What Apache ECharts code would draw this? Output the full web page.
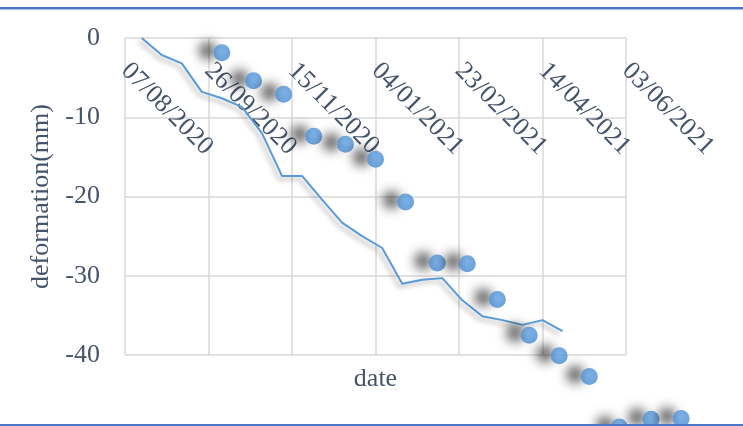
<!DOCTYPE html>
<html>
<head>
<meta charset="utf-8">
<script src="https://cdn.jsdelivr.net/npm/echarts@6/dist/echarts.min.js"></script>
<style>
  html, body { margin: 0; padding: 0; background: #ffffff; }
  #chart { width: 743px; height: 426px; }
</style>
</head>
<body>
<div id="chart"></div>
<script>
// Date-axis tick labels (50-day steps)
const xTickLabels = ['07/08/2020', '26/09/2020', '15/11/2020', '04/01/2021', '23/02/2021', '14/04/2021', '03/06/2021'];
const yTickLabels = ['-40', '-30', '-20', '-10', '0'];

// Continuous deformation series (12-day acquisitions)
const lineDates = ['2020-08-17', '2020-08-29', '2020-09-10', '2020-09-22', '2020-10-04', '2020-10-16',
  '2020-10-28', '2020-11-09', '2020-11-21', '2020-12-03', '2020-12-15', '2020-12-27',
  '2021-01-08', '2021-01-20', '2021-02-01', '2021-02-13', '2021-02-25', '2021-03-09',
  '2021-03-21', '2021-04-02', '2021-04-14', '2021-04-26'];
const lineValues = [0, -2.15, -3.2, -6.8, -7.6, -8.7, -12.0, -17.4, -17.4, -20.4, -23.3, -25.0,
  -26.5, -31.0, -30.5, -30.3, -33.1, -35.1, -35.6, -36.2, -35.6, -37.0];

// Measured points
const pointDates = ['2020-10-04', '2020-10-23', '2020-11-10', '2020-11-28', '2020-12-17', '2021-01-04',
  '2021-01-22', '2021-02-10', '2021-02-28', '2021-03-18', '2021-04-06', '2021-04-24',
  '2021-05-12', '2021-05-30', '2021-06-18', '2021-07-06'];
const pointValues = [-1.85, -5.4, -7.1, -12.4, -13.4, -15.3, -20.7, -28.4, -28.5, -33.0, -37.5, -40.1,
  -42.7, -49.1, -48.1, -48.0];

const DAY = 86400000;
function parseISO(s) {
  const p = s.split('-').map(Number);
  return Date.UTC(p[0], p[1] - 1, p[2]);
}
function parseDMY(s) {
  const p = s.split('/').map(Number);
  return Date.UTC(p[2], p[1] - 1, p[0]);
}
// x values are days counted from the first tick date
const origin = parseDMY(xTickLabels[0]);
const xMax = Math.round((parseDMY(xTickLabels[xTickLabels.length - 1]) - origin) / DAY);
const xStep = xMax / (xTickLabels.length - 1);
const toDay = s => Math.round((parseISO(s) - origin) / DAY);

const FONT = "'Liberation Serif', 'Times New Roman', serif";
const TEXT = '#44546a';
const GRID = '#d9d9d9';

const chart = echarts.init(document.getElementById('chart'), null, { renderer: 'canvas' });
chart.setOption({
  animation: false,
  backgroundColor: '#ffffff',
  grid: { left: 125, right: 117, top: 38, bottom: 71, containLabel: false },
  xAxis: [
    {
      type: 'value', position: 'top', min: 0, max: xMax, interval: xStep,
      axisLine: { show: false }, axisTick: { show: false },
      splitLine: { show: true, lineStyle: { color: GRID, width: 1.5 } },
      axisLabel: {
        inside: true, rotate: -45, margin: 29, align: 'left', verticalAlign: 'middle',
        showMinLabel: true, showMaxLabel: true,
        fontFamily: FONT, fontSize: 26, color: TEXT,
        formatter: v => xTickLabels[Math.round(v / xStep)] || ''
      }
    },
    {
      type: 'value', position: 'bottom', min: 0, max: xMax, interval: xStep,
      name: 'date', nameLocation: 'middle', nameGap: 11,
      nameTextStyle: { fontFamily: FONT, fontSize: 26, color: TEXT },
      axisLine: { show: false }, axisTick: { show: false },
      axisLabel: { show: false }, splitLine: { show: false }
    }
  ],
  yAxis: {
    type: 'value', min: Number(yTickLabels[0]), max: Number(yTickLabels[yTickLabels.length - 1]), interval: 10,
    name: 'deformation(mm)', nameLocation: 'middle', nameGap: 71, nameRotate: 90,
    nameTextStyle: { fontFamily: FONT, fontSize: 26, color: TEXT },
    axisLine: { show: false }, axisTick: { show: false },
    splitLine: { show: true, lineStyle: { color: GRID, width: 1.5 } },
    axisLabel: { margin: 25, fontFamily: FONT, fontSize: 26, color: TEXT }
  },
  series: [
    {
      type: 'line', xAxisIndex: 0, z: 3,
      data: lineDates.map((d, i) => [toDay(d), lineValues[i]]),
      symbol: 'none', showSymbol: false,
      lineStyle: {
        color: '#5b9bd5', width: 2,
        shadowColor: 'rgba(0,0,0,0.35)', shadowBlur: 5, shadowOffsetX: -3, shadowOffsetY: 3
      }
    },
    {
      type: 'scatter', xAxisIndex: 0, z: 4, clip: false,
      data: pointDates.map((d, i) => [toDay(d), pointValues[i]]),
      symbol: 'circle', symbolSize: 17,
      itemStyle: {
        color: new echarts.graphic.RadialGradient(0.45, 0.4, 0.6, [
          { offset: 0, color: '#62a3e2' },
          { offset: 1, color: '#4689d2' }
        ]),
        shadowColor: 'rgba(0,0,0,0.85)', shadowBlur: 12, shadowOffsetX: -14, shadowOffsetY: -2
      }
    }
  ],
  graphic: [
    { type: 'rect', z: 100, shape: { x: 0, y: 7, width: 743, height: 2.5 }, style: { fill: '#4a78c6' } },
    { type: 'rect', z: 100, shape: { x: 0, y: 424, width: 743, height: 2 }, style: { fill: '#4a78c6' } }
  ]
});
</script>
</body>
</html>
